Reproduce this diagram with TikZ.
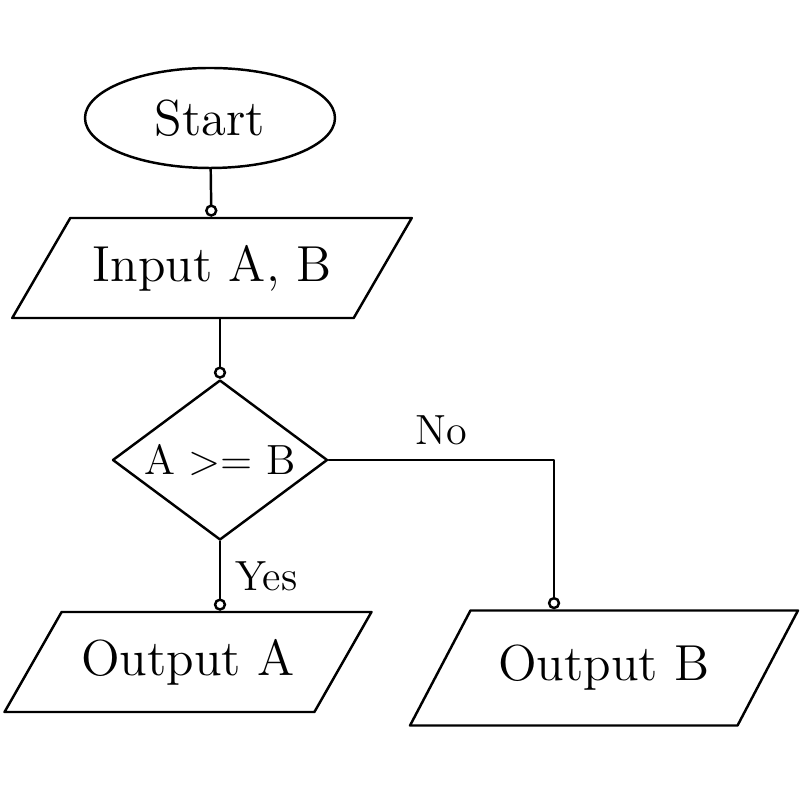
\documentclass[tikz,border=0pt]{standalone}
\usepackage{amsmath}
\usepackage{amssymb}
\usetikzlibrary{arrows,arrows.meta,shapes.geometric}

\begin{document}
\begin{tikzpicture}[line cap=round,line join=round,>={Circle[open,length=3.5pt]},x=1.0cm,y=1.0cm,line width=0.7pt]
\tikzset{io/.style={draw,trapezium,trapezium left angle=55,trapezium right angle=125,minimum height=1.0cm,trapezium stretches=true}}
\useasboundingbox (0.,0.) rectangle (8.,8.);
\begin{Large}
\node [draw,ellipse,minimum width=2.5cm,minimum height=1.0cm] (start) at (2.1,6.82) {Start};
\node [io,minimum width=4.0cm] (input) at (2.12,5.32) {Input A, B};
\node [draw,diamond,aspect=1.35,inner sep=0pt,minimum width=2.15cm,minimum height=1.6cm] (cond) at (2.2,3.4) {\large A >= B};
\node [io,minimum width=3.67cm] (outa) at (1.88,1.38) {Output A};
\node [io,minimum width=3.88cm,minimum height=1.15cm] (outb) at (6.04,1.32) {Output B};
\end{Large}
\coordinate (nob) at ([xshift=-0.5cm]outb.north);
\draw [->] (start) -- (input);
\draw [->] (cond.north |- input.south) -- (cond.north);
\begin{large}
\draw [->] (cond.south) -- node[right] {Yes} (cond.south |- outa.north);
\draw [->] (cond.east) -| node[pos=0.25,above] {No} (nob);
\end{large}
\end{tikzpicture}
\end{document}
